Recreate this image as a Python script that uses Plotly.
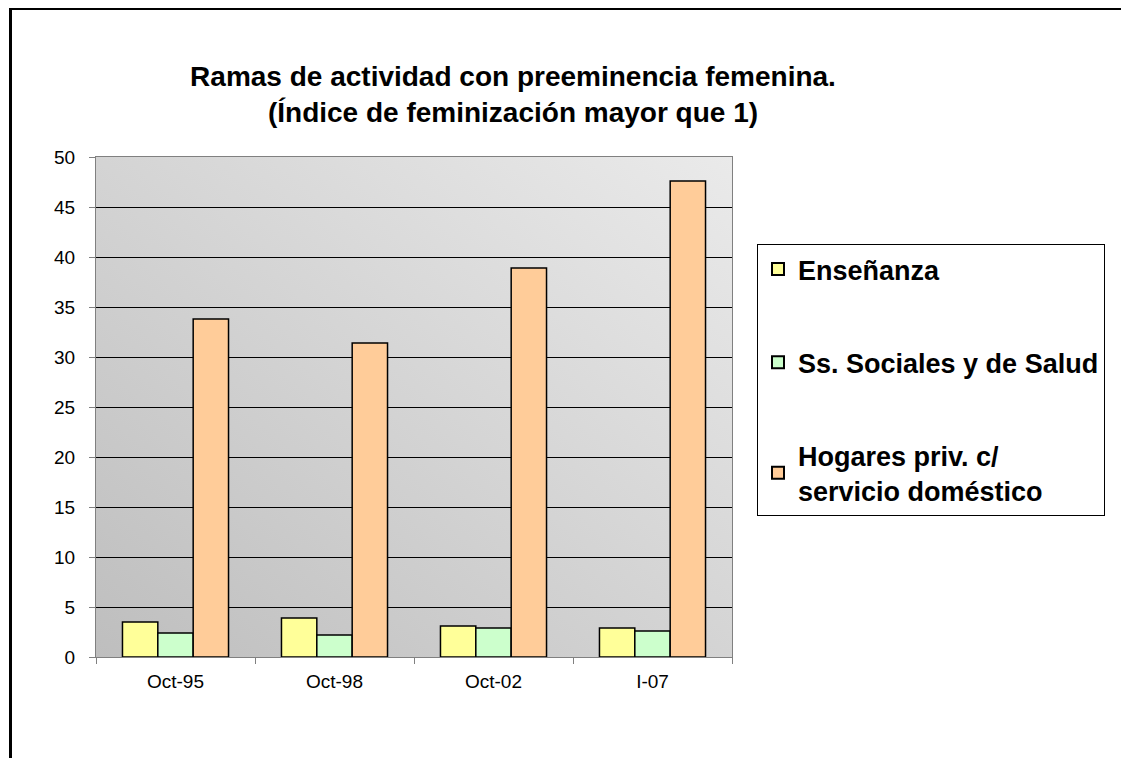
import base64
import plotly.graph_objects as go

# data
periodos = ["Oct-95", "Oct-98", "Oct-02", "I-07"]
ensenanza = [3.5, 3.9, 3.1, 2.9]
ss_sociales = [2.4, 2.2, 2.9, 2.6]
hogares = [33.8, 31.4, 38.9, 47.6]

series = [
    ("Enseñanza", ensenanza, "#FFFF99"),
    ("Ss. Sociales y de Salud", ss_sociales, "#CCFFCC"),
    ("Hogares priv. c/<br>servicio doméstico", hogares, "#FFCC99"),
]

# page body has an 8px margin, so the figure is drawn 8px in from the window corner
OFF = 8
W, H = 1129 - OFF, 758 - OFF
# plot area in window pixels: x 96..732, y 157..657
L, R, T, B = 96 - OFF, W - (732 - OFF), 157 - OFF, H - (657 - OFF)


def px_x(p):  # window px -> paper x
    return (p - OFF - L) / (W - L - R)


def px_y(p):  # window px -> paper y
    return (H - B - (p - OFF)) / (H - T - B)


fig = go.Figure()
for i, (name, vals, col) in enumerate(series):
    fig.add_trace(go.Bar(
        x=periodos, y=vals, name=name, legendgroup=str(i),
        marker=dict(color=col, line=dict(color="black", width=1.5)),
    ))

# diagonal grey gradient behind the plot area
svg = ('<svg xmlns="http://www.w3.org/2000/svg" width="100" height="100" '
       'viewBox="0 0 100 100" preserveAspectRatio="none">'
       '<defs><linearGradient id="g" x1="0" y1="1" x2="1" y2="0">'
       '<stop offset="0" stop-color="#bebebe"/><stop offset="1" stop-color="#eaeaea"/>'
       '</linearGradient></defs><rect width="100" height="100" fill="url(#g)"/></svg>')
src = "data:image/svg+xml;base64," + base64.b64encode(svg.encode()).decode()

fig.add_layout_image(dict(source=src, xref="paper", yref="paper", x=0, y=1,
                          sizex=1, sizey=1, sizing="stretch", layer="below",
                          xanchor="left", yanchor="top"))

# chart outer frame (only top and left are visible in the picture)
fig.add_shape(type="line", xref="paper", yref="paper", x0=px_x(9), x1=px_x(1140),
              y0=px_y(8.5), y1=px_y(8.5), line=dict(color="black", width=3))
fig.add_shape(type="line", xref="paper", yref="paper", x0=px_x(10.5), x1=px_x(10.5),
              y0=px_y(7), y1=px_y(770), line=dict(color="black", width=3))

font = "Liberation Sans, Arial, sans-serif"
fig.update_layout(
    width=W, height=H,
    margin=dict(l=L, r=R, t=T, b=B),
    paper_bgcolor="white", plot_bgcolor="rgba(0,0,0,0)",
    barmode="group", bargap=0.333, bargroupgap=0,
    font=dict(family=font, color="black", size=19),
    title=dict(
        text="Ramas de actividad con preeminencia femenina.<br>(Índice de feminización mayor que 1)",
        font=dict(family=font, size=28, weight="bold"),
        x=(513 - OFF) / W, xref="container", xanchor="center",
        y=1 - (86 - OFF) / H, yref="container", yanchor="middle",
    ),
    xaxis=dict(
        showline=True, linecolor="#808080", linewidth=1, mirror=True,
        ticks="outside", tickson="boundaries", ticklen=6, tickcolor="#808080",
        showgrid=False, tickfont=dict(size=19), ticklabelstandoff=7,
    ),
    yaxis=dict(
        range=[0, 50], dtick=5, showline=True, linecolor="#808080", linewidth=1,
        mirror=True, ticks="outside", ticklen=6, tickcolor="#808080",
        showgrid=True, gridcolor="black", gridwidth=1, zeroline=False,
        tickfont=dict(size=19), ticklabelstandoff=10,
    ),
    legend=dict(
        x=px_x(757), y=px_y(244), xanchor="left", yanchor="top",
        bgcolor="white", bordercolor="black", borderwidth=1,
        font=dict(family=font, size=27, weight="bold"),
        tracegroupgap=55, itemsizing="constant",
    ),
    showlegend=True,
)

fig.write_html("out.html")
